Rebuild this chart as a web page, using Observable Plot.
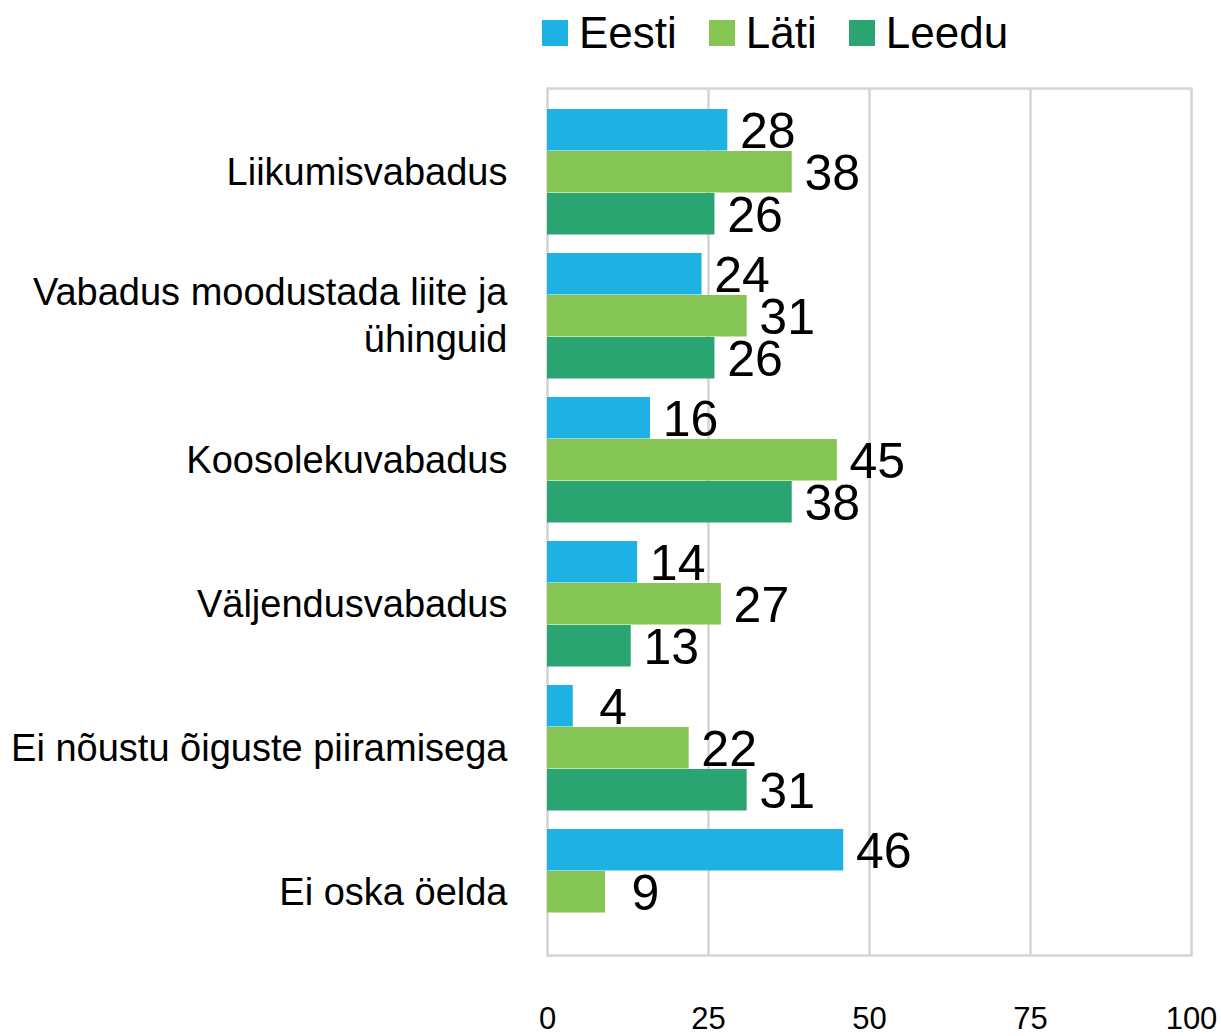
<!DOCTYPE html>
<html>
<head>
<meta charset="utf-8">
<script src="https://cdn.jsdelivr.net/npm/d3@7"></script>
<script src="https://cdn.jsdelivr.net/npm/@observablehq/plot@0.6"></script>
<style>
  html, body { margin: 0; padding: 0; background: #fff; }
  body { width: 1221px; height: 1036px; overflow: hidden; font-family: "Liberation Sans", Arial, Helvetica, sans-serif; }
  #legend { box-sizing: border-box; width: 1221px; height: 70px; padding-left: 542px; padding-top: 11px; display: flex; }
  .item { display: flex; align-items: center; margin-right: 32px; height: 44px; }
  .sw { width: 26px; height: 26px; margin-right: 11px; }
  .lab { font-size: 44px; line-height: 44px; color: #000; }
  #chart svg { display: block; }
</style>
</head>
<body>
<div id="legend"></div>
<div id="chart"></div>
<script>
const categories = [
  "Liikumisvabadus",
  "Vabadus moodustada liite ja ühinguid",
  "Koosolekuvabadus",
  "Väljendusvabadus",
  "Ei nõustu õiguste piiramisega",
  "Ei oska öelda"
];
const categoryLabels = [
  "Liikumisvabadus",
  "Vabadus moodustada liite ja\nühinguid",
  "Koosolekuvabadus",
  "Väljendusvabadus",
  "Ei nõustu õiguste piiramisega",
  "Ei oska öelda"
];
const series = ["Eesti", "Läti", "Leedu"];
const colors = ["#1eb1e3", "#84c554", "#2aa471"];
const eesti = [28, 24, 16, 14, 4, 46];
const lati  = [38, 31, 45, 27, 22, 9];
const leedu = [26, 26, 38, 13, 31, null];
const xTicks = [0, 25, 50, 75, 100];

const values = [eesti, lati, leedu];
const rows = [];
series.forEach((s, si) => {
  categories.forEach((c, ci) => {
    const v = values[si][ci];
    if (v != null) rows.push({category: c, series: s, value: v});
  });
});

// legend
const legend = document.getElementById("legend");
series.forEach((s, i) => {
  const it = document.createElement("div");
  it.className = "item";
  const sw = document.createElement("div");
  sw.className = "sw";
  sw.style.background = colors[i];
  const lab = document.createElement("div");
  lab.className = "lab";
  lab.textContent = s;
  it.appendChild(sw);
  it.appendChild(lab);
  legend.appendChild(it);
});

const W = 1221, H = 966;
const mTop = 18, mBottom = 81, mLeft = 547, mRight = 30;
const step = (H - mTop - mBottom) / categories.length;
const barTop = 19, barH = 42;

const gridColor = "#d4d4d4";

const marks = [
  Plot.ruleX(xTicks.slice(1, -1), {stroke: gridColor, strokeWidth: 2.5}),
  Plot.frame({stroke: gridColor, strokeWidth: 2.5})
];
series.forEach((s, i) => {
  marks.push(Plot.barX(rows.filter(r => r.series === s), {
    x: "value", y: "category", fill: "series",
    insetTop: barTop + i * barH,
    insetBottom: step - (barTop + (i + 1) * barH)
  }));
});
series.forEach((s, i) => {
  marks.push(Plot.text(rows.filter(r => r.series === s), {
    x: "value", y: "category", text: d => String(d.value),
    dx: 40, dy: barTop + (i + 0.5) * barH - step / 2 + 2,
    textAnchor: "middle", fontSize: 50, fill: "#000"
  }));
});
marks.push(Plot.text(categories, {
  y: d => d, text: (d, i) => categoryLabels[i],
  frameAnchor: "left", textAnchor: "end", dx: -40, dy: 7,
  fontSize: 38, lineHeight: 1.24, fill: "#000"
}));
marks.push(Plot.axisX(xTicks, {tickSize: 0, tickPadding: 51, fontSize: 31, label: null}));

const chart = Plot.plot({
  width: W,
  height: H,
  marginTop: mTop,
  marginBottom: mBottom,
  marginLeft: mLeft,
  marginRight: mRight,
  style: {fontFamily: "'Liberation Sans', Arial, Helvetica, sans-serif", fontSize: "31px", color: "#000", background: "#fff"},
  x: {domain: [0, 100], label: null},
  y: {domain: categories, padding: 0, axis: null},
  color: {domain: series, range: colors},
  marks
});
document.getElementById("chart").appendChild(chart);
</script>
</body>
</html>
